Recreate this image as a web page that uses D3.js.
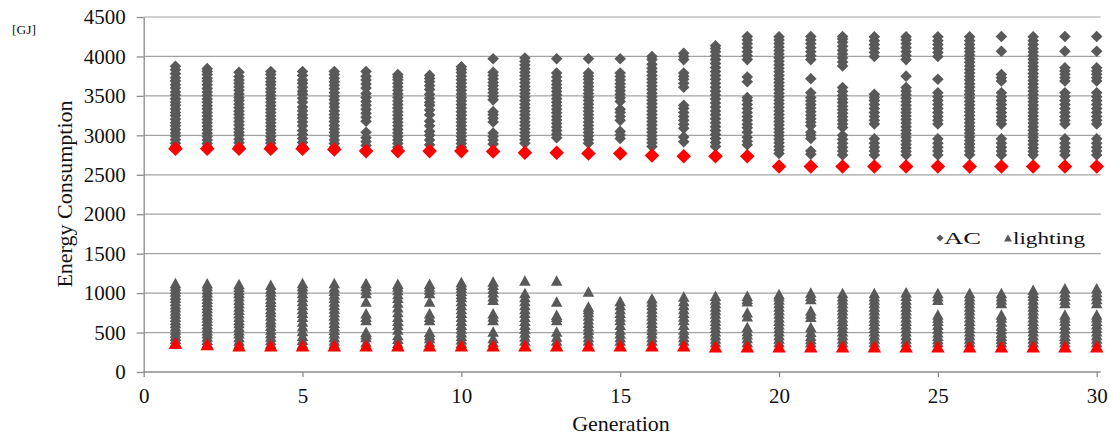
<!DOCTYPE html>
<html><head><meta charset="utf-8">
<script src="https://cdn.jsdelivr.net/npm/d3@7"></script>
<style>
body{margin:0;background:#fff;}
svg{display:block;}
text{font-family:"Liberation Serif","Times New Roman",serif;fill:#111;}
</style>
</head><body>
<svg id="chart" width="1110" height="437"></svg>
<script>
const generations = [1,2,3,4,5,6,7,8,9,10,11,12,13,14,15,16,17,18,19,20,21,22,23,24,25,26,27,28,29,30];
const xTicks = [0,5,10,15,20,25,30];
const yTicks = [0,500,1000,1500,2000,2500,3000,3500,4000,4500];
const seriesNames = ["AC","lighting"];

// AC: all individuals per generation (gray diamonds)
const acValues = [
 [2860,2900,2945,2990,3030,3075,3120,3160,3205,3250,3290,3335,3380,3420,3465,3510,3550,3600,3640,3690,3730,3780,3830,3876],
 [2855,2895,2940,2985,3025,3070,3115,3160,3200,3245,3290,3335,3375,3420,3460,3505,3550,3595,3640,3685,3725,3770,3810,3845],
 [2860,2905,2950,3000,3040,3085,3130,3175,3220,3265,3305,3350,3395,3440,3480,3525,3570,3615,3660,3700,3745,3800],
 [2855,2900,2940,2985,3030,3070,3115,3160,3200,3245,3290,3330,3375,3420,3465,3505,3550,3595,3640,3680,3725,3770,3810],
 [2860,2910,2960,3010,3060,3120,3170,3220,3260,3310,3360,3420,3470,3520,3560,3610,3660,3700,3760,3810],
 [2850,2895,2940,2990,3035,3080,3125,3175,3220,3265,3310,3360,3405,3450,3495,3540,3590,3635,3680,3725,3770,3810],
 [2870,2920,2970,3040,3180,3230,3280,3330,3380,3430,3480,3530,3600,3650,3700,3750,3810],
 [2850,2895,2940,2985,3030,3075,3120,3165,3210,3255,3300,3345,3390,3435,3480,3525,3570,3615,3660,3705,3740,3770],
 [2880,2940,3000,3050,3120,3180,3260,3320,3380,3420,3470,3520,3580,3630,3680,3720,3760],
 [2850,2895,2940,2985,3030,3075,3120,3165,3210,3255,3300,3345,3390,3435,3480,3525,3570,3615,3660,3705,3750,3795,3835,3870],
 [2890,2940,2985,3030,3170,3215,3260,3300,3450,3495,3540,3585,3630,3670,3715,3760,3800,3970],
 [2900,2945,2990,3035,3080,3125,3170,3215,3260,3305,3350,3395,3440,3485,3530,3575,3620,3665,3710,3755,3800,3845,3890,3935,3980],
 [2970,3015,3060,3105,3150,3195,3240,3285,3330,3375,3420,3465,3510,3555,3600,3645,3690,3740,3790,3970],
 [2900,2945,2990,3035,3080,3125,3170,3215,3260,3305,3350,3395,3440,3485,3530,3575,3620,3665,3710,3750,3790,3970],
 [2960,3005,3050,3190,3240,3290,3330,3430,3475,3520,3565,3610,3655,3700,3745,3790,3970],
 [2860,2905,2950,2995,3040,3085,3130,3175,3220,3265,3310,3355,3400,3445,3490,3535,3580,3625,3670,3715,3760,3805,3850,3900,3960,4000],
 [2920,2980,3090,3140,3190,3240,3290,3340,3380,3610,3660,3710,3750,3790,3960,4000,4040],
 [2860,2910,2960,3010,3060,3110,3160,3210,3260,3310,3360,3410,3460,3510,3560,3610,3660,3710,3760,3810,3860,3910,3960,4010,4060,4100,4136],
 [2880,2925,2975,3040,3095,3140,3190,3240,3290,3340,3390,3440,3480,3680,3740,3960,4010,4060,4110,4160,4210,4253],
 [2770,2815,2860,2905,2950,2995,3040,3085,3130,3175,3220,3265,3310,3355,3400,3445,3490,3535,3580,3625,3670,3715,3760,3805,3850,3895,3940,3985,4030,4075,4120,4165,4210,4250],
 [2760,2800,2960,3000,3040,3120,3165,3210,3255,3300,3345,3390,3435,3480,3540,3717,3960,4010,4060,4110,4160,4210,4253],
 [2750,2800,2850,2900,2950,3000,3100,3145,3190,3235,3280,3325,3370,3415,3460,3505,3555,3605,3880,3930,3980,4030,4080,4130,4180,4220,4253],
 [2750,2800,2850,2900,2956,3145,3190,3240,3290,3340,3390,3440,3480,3520,4000,4050,4100,4150,4200,4250],
 [2750,2795,2840,2885,2930,2975,3020,3065,3110,3155,3200,3245,3290,3335,3380,3425,3470,3515,3560,3605,3750,3960,4010,4060,4110,4160,4210,4250],
 [2750,2800,2850,2900,2956,3145,3190,3240,3290,3340,3390,3440,3490,3540,3710,4000,4050,4100,4150,4200,4250],
 [2755,2800,2845,2890,2935,2980,3025,3070,3115,3160,3205,3250,3295,3340,3385,3430,3475,3520,3565,3610,3655,3700,3745,3790,3835,3880,3925,3970,4015,4060,4105,4150,4200,4250],
 [2750,2800,2850,2900,2956,3145,3190,3240,3290,3340,3390,3440,3490,3540,3690,3730,3770,4065,4253],
 [2750,2795,2840,2885,2930,2975,3020,3065,3110,3155,3200,3245,3290,3335,3380,3425,3470,3515,3560,3605,3650,3695,3740,3785,3830,3875,3920,3965,4010,4055,4100,4150,4200,4250],
 [2750,2800,2850,2900,2956,3145,3190,3240,3290,3340,3390,3440,3490,3540,3690,3730,3775,3815,3856,4065,4253],
 [2750,2800,2850,2900,2956,3145,3190,3240,3290,3340,3390,3440,3490,3540,3690,3730,3775,3815,3856,4065,4253]
];
// AC: best individual per generation (red diamonds)
const acBest = [2830,2830,2830,2830,2830,2820,2800,2800,2800,2800,2795,2780,2780,2770,2770,2745,2735,2735,2735,2605,2605,2605,2605,2605,2605,2605,2605,2605,2605,2605];

// lighting: all individuals per generation (gray triangles)
const lightValues = [
 [380,420,460,500,540,580,620,660,700,740,780,820,860,900,940,980,1020,1060,1095,1128],
 [370,410,450,490,530,570,610,650,690,730,770,810,850,890,930,970,1010,1050,1090,1125],
 [360,400,445,490,530,575,620,660,700,745,790,830,875,915,960,1000,1040,1080,1115],
 [360,405,450,495,540,585,630,670,715,760,800,845,890,930,975,1020,1060,1107],
 [360,410,460,520,580,640,700,750,800,850,900,950,1000,1050,1090,1128],
 [360,400,445,490,535,580,625,670,715,760,805,850,895,940,985,1030,1075,1128],
 [380,445,480,509,658,700,744,893,1000,1045,1090,1128],
 [370,420,470,540,600,650,700,760,820,880,940,990,1040,1085,1120],
 [380,430,470,509,658,700,744,893,1000,1045,1085,1120],
 [370,415,460,505,550,600,650,700,750,800,850,900,950,990,1030,1070,1105,1140],
 [380,430,513,660,705,746,915,960,1010,1060,1105,1148],
 [400,450,500,550,600,650,700,750,800,850,900,950,1000,1160],
 [400,450,513,660,700,725,894,1160],
 [400,445,490,535,580,625,670,715,760,800,830,1021],
 [400,445,490,540,600,660,705,750,800,850,900],
 [400,445,490,535,580,625,670,715,760,805,850,895,936],
 [400,445,490,540,600,660,705,750,800,850,900,958],
 [380,425,470,515,560,605,650,695,740,785,830,875,920,967],
 [380,430,480,521,571,708,758,896,930,967],
 [380,425,470,515,560,605,650,695,740,785,830,875,920,960,990],
 [380,417,460,510,571,700,740,779,925,965,1008],
 [380,425,470,515,560,605,650,695,740,785,830,875,920,960,1000],
 [380,425,470,515,560,605,650,695,740,785,830,875,920,960,1000],
 [380,425,470,515,560,605,650,695,740,785,830,875,920,965,1010],
 [380,417,460,505,550,600,650,690,729,917,960,1000],
 [380,425,470,515,560,605,650,695,740,785,830,875,920,960,1000],
 [380,420,460,500,545,590,640,690,729,875,920,960,1000],
 [380,425,470,515,560,605,650,695,740,785,830,875,920,965,1005,1042],
 [380,420,460,505,550,600,650,690,729,875,920,965,1010,1062],
 [380,425,470,515,560,605,650,695,729,875,925,970,1015,1062]
];
// lighting: best individual per generation (red triangles)
const lightBest = [368,351,335,335,335,335,335,335,335,335,335,335,335,335,335,335,335,322,322,322,322,322,322,322,322,322,322,322,322,322];

const GRAY = "#595959", RED = "#ff0000";
const SERIF = '"Liberation Serif","Times New Roman",serif';

const svg = d3.select("#chart");
const x = d3.scaleLinear().domain([0,30]).range([143.7,1096.7]);
const y = d3.scaleLinear().domain([0,4500]).range([372,17]);

// gridlines
svg.append("g").selectAll("line").data(yTicks.filter(d=>d>0)).join("line")
  .attr("x1", x(0)).attr("x2", x(30)+4)
  .attr("y1", d=>y(d)).attr("y2", d=>y(d))
  .attr("stroke", "#a3a3a3").attr("stroke-width", 1.2);

// axes
const yAxis = svg.append("g").attr("transform",`translate(${x(0)},0)`)
  .call(d3.axisLeft(y).tickValues(yTicks).tickFormat(d3.format("d")).tickSize(7).tickPadding(11).tickSizeOuter(0));
const xAxis = svg.append("g").attr("transform",`translate(0,${y(0)})`)
  .call(d3.axisBottom(x).tickValues(xTicks).tickFormat(d3.format("d")).tickSize(5).tickPadding(11).tickSizeOuter(0));
[yAxis,xAxis].forEach(a=>{
  a.attr("font-family", SERIF).attr("font-size", 21);
  a.select(".domain").attr("stroke","#8c8c8c").attr("stroke-width",1.3);
  a.selectAll(".tick line").attr("stroke","#8c8c8c").attr("stroke-width",1.3);
  a.selectAll(".tick text").attr("fill","#111").style("font-size","21px").style("font-family",SERIF);
});
xAxis.select(".domain").attr("d", `M${x(0)},0H${x(30)+4}`);

// marker shapes
const diamond = r => `M0,${-r}L${r},0L0,${r}L${-r},0Z`;
const triangle = (w,h) => `M0,${-h/2}L${w/2},${h/2}L${-w/2},${h/2}Z`;

const acPts = [], lightPts = [];
generations.forEach((g,i)=>{
  acValues[i].forEach(v=>acPts.push({g,v}));
  lightValues[i].forEach(v=>lightPts.push({g,v}));
});

const plot = svg.append("g");
plot.append("g").selectAll("path").data(lightPts).join("path")
  .attr("d", triangle(11.5,10.5)).attr("fill",GRAY)
  .attr("transform", d=>`translate(${x(d.g)},${y(d.v)})`);
plot.append("g").selectAll("path").data(acPts).join("path")
  .attr("d", diamond(5.8)).attr("fill",GRAY)
  .attr("transform", d=>`translate(${x(d.g)},${y(d.v)})`);
plot.append("g").selectAll("path").data(generations).join("path")
  .attr("d", triangle(13.5,12)).attr("fill",RED)
  .attr("transform", (d,i)=>`translate(${x(d)},${y(lightBest[i])})`);
plot.append("g").selectAll("path").data(generations).join("path")
  .attr("d", diamond(7.3)).attr("fill",RED)
  .attr("transform", (d,i)=>`translate(${x(d)},${y(acBest[i])})`);

// axis titles
svg.append("text").attr("x", 621).attr("y", 431)
  .attr("text-anchor","middle").style("font-size","22px").text("Generation");
svg.append("text").attr("transform","translate(72,194) rotate(-90)")
  .attr("text-anchor","middle").style("font-size","22px").text("Energy Consumption");
svg.append("text").attr("x", 12).attr("y", 34).style("font-size","13.5px").text("[GJ]");

// legend
const lg = svg.append("g");
lg.append("path").attr("d", diamond(3.6)).attr("fill",GRAY).attr("transform","translate(940,238)");
lg.append("text").attr("x",944).attr("y",243.5).style("font-size","17px")
  .attr("textLength",37).attr("lengthAdjust","spacingAndGlyphs").text(seriesNames[0]);
lg.append("path").attr("d", triangle(8,7)).attr("fill",GRAY).attr("transform","translate(1008,238)");
lg.append("text").attr("x",1013).attr("y",243.5).style("font-size","17px")
  .attr("textLength",72).attr("lengthAdjust","spacingAndGlyphs").text(seriesNames[1]);
</script>
</body></html>
